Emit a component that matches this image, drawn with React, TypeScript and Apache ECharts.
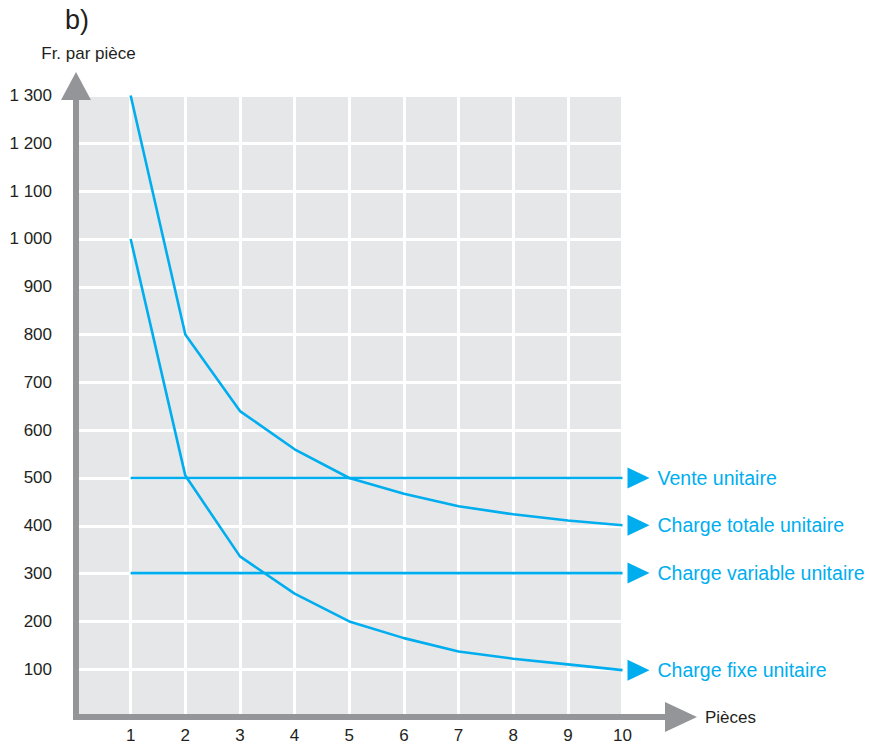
import React, { useEffect, useRef } from "react";
import * as echarts from "echarts";

const pieces = [1, 2, 3, 4, 5, 6, 7, 8, 9, 10];
const venteUnitaire = [500, 500, 500, 500, 500, 500, 500, 500, 500, 500];
const chargeTotaleUnitaire = [1300, 800, 640, 560, 500, 467, 441, 424, 411, 401];
const chargeVariableUnitaire = [301, 301, 301, 301, 301, 301, 301, 301, 301, 301];
const chargeFixeUnitaire = [1000, 505, 336, 258, 200, 165, 137, 122, 110, 98];
const yTickValues = [100, 200, 300, 400, 500, 600, 700, 800, 900, 1000, 1100, 1200, 1300];
const yTickLabels = ["100", "200", "300", "400", "500", "600", "700", "800", "900", "1 000", "1 100", "1 200", "1 300"];
const xTickLabels = ["1", "2", "3", "4", "5", "6", "7", "8", "9", "10"];
const seriesNames = ["Vente unitaire", "Charge totale unitaire", "Charge variable unitaire", "Charge fixe unitaire"];
const seriesValues = [venteUnitaire, chargeTotaleUnitaire, chargeVariableUnitaire, chargeFixeUnitaire];

const BLUE = "#00aeef";
const GRAY = "#939598";
const TEXT = "#231f20";
const FONT = "'Liberation Sans', Arial, Helvetica, sans-serif";

export default function App() {
  const ref = useRef<HTMLDivElement>(null);
  useEffect(() => {
    const chart = echarts.init(ref.current!, null, { renderer: "svg" });
    const lastX = pieces[pieces.length - 1];
    const lineSeries = seriesNames.map((name, k) => ({
      type: "line",
      name,
      data: pieces.map((x, i) => [x, seriesValues[k][i]]),
      symbol: "none",
      z: 5,
      silent: true,
      lineStyle: { color: BLUE, width: 2.6 },
      endLabel: {
        show: true,
        formatter: name,
        color: BLUE,
        fontSize: 19.5,
        fontFamily: FONT,
        distance: 35,
      },
    }));
    const arrowSeries = seriesNames.map((name, k) => ({
      type: "scatter",
      name: name + " flèche",
      data: [[lastX, seriesValues[k][seriesValues[k].length - 1]]],
      symbol: "triangle",
      symbolSize: [21, 22],
      symbolRotate: -90,
      symbolOffset: [16, 0],
      itemStyle: { color: BLUE, opacity: 1 },
      z: 5,
      silent: true,
    }));
    chart.setOption({
      animation: false,
      textStyle: { fontFamily: FONT },
      title: {
        text: "b)",
        left: 60,
        top: 1,
        textStyle: { fontSize: 27, fontWeight: "normal", color: TEXT, fontFamily: FONT },
      },
      grid: { left: 76, right: 188, top: 86, bottom: 32 },
      xAxis: {
        type: "value",
        min: 0,
        max: 11.07,
        interval: 1,
        z: 3,
        name: "Pièces",
        nameLocation: "end",
        nameGap: 24,
        nameTextStyle: { fontSize: 17, color: TEXT, fontFamily: FONT },
        axisLine: {
          show: true,
          symbol: ["none", "triangle"],
          symbolSize: [30, 32],
          lineStyle: { color: GRAY, width: 6, cap: "square" },
        },
        axisTick: { show: false },
        axisLabel: {
          color: TEXT,
          fontSize: 17,
          fontFamily: FONT,
          margin: 10,
          showMaxLabel: false,
          formatter: (v: number) => {
            const i = pieces.indexOf(v);
            return i >= 0 ? xTickLabels[i] : "";
          },
        },
        splitLine: { show: true, lineStyle: { color: "#ffffff", width: 3 } },
      },
      yAxis: {
        type: "value",
        min: 0,
        max: 1320,
        interval: 100,
        z: 3,
        name: "Fr. par pièce",
        nameLocation: "end",
        nameGap: 24,
        nameTextStyle: { fontSize: 17, color: TEXT, fontFamily: FONT, padding: [0, 0, 0, 25] },
        axisLine: {
          show: true,
          symbol: ["none", "triangle"],
          symbolSize: [30, 28],
          lineStyle: { color: GRAY, width: 6, cap: "square" },
        },
        axisTick: { show: false },
        axisLabel: {
          color: TEXT,
          fontSize: 17,
          fontFamily: FONT,
          margin: 24,
          showMaxLabel: false,
          formatter: (v: number) => {
            const i = yTickValues.indexOf(v);
            return i >= 0 ? yTickLabels[i] : "";
          },
        },
        splitLine: { show: true, lineStyle: { color: "#ffffff", width: 3 } },
      },
      series: [
        {
          type: "line",
          name: "fond",
          data: [],
          z: 1,
          silent: true,
          markArea: {
            silent: true,
            itemStyle: { color: "#e6e7e8" },
            data: [[{ coord: [0, 0] }, { coord: [lastX, yTickValues[yTickValues.length - 1]] }]],
          },
        },
        ...lineSeries,
        ...arrowSeries,
      ],
    });
    return () => chart.dispose();
  }, []);
  return <div ref={ref} style={{ position: "absolute", left: 0, top: 0, width: 869, height: 749 }} />;
}
